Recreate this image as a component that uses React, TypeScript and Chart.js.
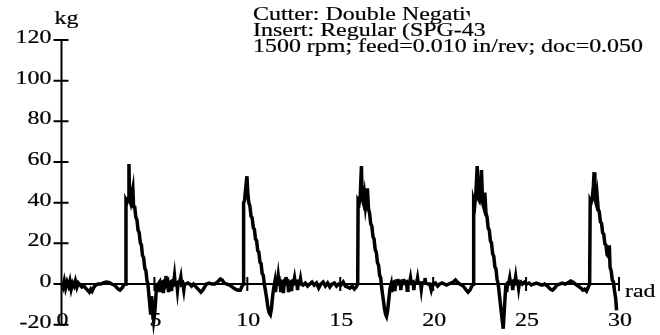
import React, { useEffect, useRef } from 'react';
import { Chart, registerables } from 'chart.js';

Chart.register(...registerables);

// [angle (rad), force (kg)], one array per tooth pass
const lead: [number, number][] = [
  [0, 0.5], [0.08, -1.5], [0.15, 1.5], [0.22, -2], [0.3, 1], [0.38, -1], [0.45, 1.5], [0.52, -2.5], [0.6, 0.5],
  [0.68, -1], [0.75, 1.5], [0.83, -1.5], [0.9, 0.5], [1.0, -0.5], [1.1, -1.5], [1.2, -1], [1.3, -2], [1.4, -3],
  [1.5, -4], [1.58, -2.5], [1.65, -3.5], [1.75, -1.5], [1.85, -0.5], [1.95, 0], [2.1, 0], [2.25, 0.5], [2.4, 1],
  [2.55, 0.8], [2.7, 0], [2.85, -0.5], [2.95, -1.5], [3.05, -2.5], [3.15, -3], [3.25, -2], [3.35, -0.5], [3.45, 0],
];

const cut1: [number, number][] = [
  [3.47, 41], [3.52, 40], [3.58, 42], [3.63, 59], [3.66, 42], [3.72, 40], [3.78, 44], [3.84, 47], [3.88, 38],
  [3.94, 37.9], [4.0, 32.8], [4.06, 31.6], [4.12, 26.5], [4.18, 25.4], [4.24, 20.3], [4.3, 19.2], [4.36, 14],
  [4.42, 12.9], [4.48, 7.8], [4.54, 6.7], [4.6, 1.6], [4.65, 0], [4.68, -3], [4.74, -9], [4.8, -15], [4.85, -6],
  [4.9, -12], [4.96, -18], [5.02, -14], [5.08, -6], [5.12, 0],
  [5.16, -4], [5.2, 0], [5.28, 1], [5.32, -4], [5.36, 0.5], [5.44, 1], [5.48, -4.5], [5.52, 0.5], [5.58, 1],
  [5.62, 4], [5.66, 0], [5.72, 1], [5.76, -4], [5.8, 0.5], [5.88, 1], [5.92, -3.5], [5.96, 0.5], [6.04, 1],
  [6.08, 4], [6.12, 0], [6.2, 0.5], [6.24, -3], [6.28, 0.5], [6.36, 1], [6.42, 3.5], [6.46, 0], [6.52, 0.5],
  [6.58, -3], [6.62, 0], [6.7, 0],
  [6.8, 0.5], [6.9, 0], [7.0, -1], [7.1, 0], [7.2, -1], [7.3, -2], [7.4, -3], [7.5, -4], [7.6, -3], [7.7, -1.5],
  [7.8, 0], [7.95, 0.5], [8.1, 0], [8.25, 0], [8.4, 1], [8.55, 2.5], [8.65, 2], [8.75, 0.5], [8.9, 0],
  [9.05, -0.5], [9.2, -1.5], [9.35, -2.5], [9.5, -3], [9.62, -3], [9.72, -1], [9.78, 0],
];

const cut2: [number, number][] = [
  [9.8, 40], [9.85, 41], [9.92, 48], [9.98, 53], [10.03, 44], [10.08, 40], [10.14, 38.2], [10.2, 33.4],
  [10.26, 32.5], [10.32, 27.7], [10.38, 26.9], [10.44, 22.1], [10.5, 21.3], [10.56, 16.4], [10.62, 15.6],
  [10.68, 10.8], [10.74, 10], [10.8, 5.1], [10.86, 4.3], [10.92, -0.5], [10.97, -3], [11.04, -7], [11.1, -11],
  [11.17, -14], [11.24, -15], [11.3, -12], [11.36, -6], [11.42, -2], [11.48, 1],
  [11.52, -4], [11.56, 0.5], [11.62, 1], [11.66, 4], [11.7, 0.5], [11.76, 1], [11.8, -4], [11.84, 0.5], [11.9, 1],
  [11.94, -4.5], [11.98, 0.5], [12.04, 1], [12.08, 3.5], [12.12, 0.5], [12.18, 1], [12.22, -4], [12.26, 0.5],
  [12.34, 1], [12.38, -3.5], [12.42, 0.5], [12.5, 1], [12.54, 3], [12.58, 0.5], [12.66, 1], [12.7, -3],
  [12.74, 0.5], [12.82, 0.5], [12.86, 2.5], [12.9, 0],
  [13.0, -0.5], [13.12, 0.5], [13.24, -1], [13.36, 0], [13.48, 1], [13.6, -0.5], [13.72, 0.5], [13.84, -2],
  [13.96, 0], [14.08, 1], [14.2, -1], [14.32, 0.5], [14.44, -1.5], [14.56, 0], [14.68, 0.5], [14.8, -1],
  [14.92, 0], [15.04, -0.5], [15.16, 1], [15.28, -1], [15.4, -1.5], [15.52, -2], [15.64, -1], [15.76, -2.5],
  [15.86, -1.5], [15.94, 0],
];

const cut3: [number, number][] = [
  [15.96, 41], [16.02, 40], [16.08, 44], [16.14, 58], [16.18, 42], [16.24, 40], [16.3, 44], [16.36, 38],
  [16.42, 42], [16.46, 47], [16.52, 37], [16.58, 34.8], [16.64, 29.6], [16.7, 28.5], [16.76, 23.3], [16.82, 22.1],
  [16.88, 16.9], [16.94, 15.7], [17.0, 10.6], [17.06, 9.4], [17.12, 4.2], [17.18, 3], [17.22, -1],
  [17.26, -4], [17.32, -8], [17.38, -12], [17.44, -15], [17.49, -16], [17.55, -13], [17.62, -7], [17.68, -2],
  [17.74, 0],
  [17.78, -4], [17.82, 0.5], [17.9, 1], [17.94, -3.5], [17.98, 0.5], [18.06, 1], [18.1, 2.5], [18.14, 0.5],
  [18.22, 1], [18.26, -3], [18.3, 0.5], [18.38, 1], [18.42, 2.5], [18.46, 0.5], [18.56, 1], [18.6, -3],
  [18.64, 0.5], [18.74, 1], [18.78, 3], [18.82, 0.5], [18.92, 1], [18.96, -3], [19.0, 0.5], [19.12, 1],
  [19.16, 3], [19.2, 0.5], [19.32, 0.5], [19.36, -2.5], [19.4, 0.5], [19.52, 1], [19.56, 3], [19.6, 0.5],
  [19.72, 0], [19.82, 0], [19.9, -3], [19.96, -1], [20.02, 0],
  [20.12, 0.5], [20.24, -1], [20.36, 0], [20.48, 0.5], [20.6, 0], [20.72, -0.5], [20.84, 0], [20.96, 0.5],
  [21.08, 1], [21.2, 2], [21.3, 1], [21.42, 0], [21.54, -0.5], [21.66, -1.5], [21.78, -3], [21.88, -4],
  [21.98, -3], [22.08, -1], [22.16, 0],
];

const cut4: [number, number][] = [
  [22.18, 41], [22.24, 39], [22.3, 45], [22.37, 58], [22.42, 42], [22.48, 41], [22.54, 46], [22.6, 56],
  [22.66, 40], [22.72, 38], [22.78, 45], [22.84, 35], [22.9, 32.8], [22.96, 27.6], [23.02, 26.5], [23.08, 21.3],
  [23.14, 20.1], [23.2, 14.9], [23.26, 13.7], [23.32, 8.5], [23.38, 7.4], [23.44, 2.2], [23.5, 0],
  [23.56, -5], [23.62, -10], [23.68, -15], [23.73, -19], [23.77, -22], [23.82, -14], [23.88, -5], [23.92, 0],
  [23.96, -4], [24.0, 0.5], [24.08, 1], [24.12, 3], [24.16, 0.5], [24.24, 1], [24.28, -3], [24.32, 0.5],
  [24.4, 1], [24.44, 3.5], [24.48, 0.5], [24.56, 1], [24.6, -2], [24.64, 0.5], [24.72, 1], [24.8, 0],
  [24.92, 1], [25.04, 0], [25.16, 0.5], [25.28, -0.5], [25.4, 0], [25.55, 0.5], [25.7, 0], [25.85, -0.5],
  [26.0, 0], [26.15, -1], [26.3, -2.5], [26.42, -3], [26.54, -2], [26.66, -0.5], [26.8, 0], [26.95, 0.5],
  [27.1, 0], [27.25, 0.5], [27.4, 1.5], [27.52, 1], [27.65, 0], [27.8, -1], [27.95, -2], [28.05, -3],
  [28.15, -2.5], [28.25, -3.5], [28.35, -1.5], [28.42, 0],
];

const cut5: [number, number][] = [
  [28.45, 41], [28.5, 40], [28.56, 42], [28.62, 48], [28.66, 55], [28.7, 42], [28.76, 40], [28.82, 44],
  [28.88, 37], [28.94, 35.3], [29.0, 30.6], [29.06, 29.9], [29.12, 25.2], [29.18, 24.5], [29.24, 19.8],
  [29.3, 19.1], [29.36, 14.4], [29.42, 13.7], [29.48, 19], [29.52, 8.2], [29.58, 6.5], [29.64, 1.8],
  [29.7, 1.1], [29.76, -3.6], [29.82, -7], [29.87, -13],
];

const xTicks = [0, 5, 10, 15, 20, 25, 30];
const yTicks = [-20, 0, 20, 40, 60, 80, 100, 120];
const xUnit = 'rad';
const yUnit = 'kg';
const titleLines = [
  'Cutter: Double Negative',
  'Insert: Regular (SPG-43',
  '1500 rpm; feed=0.010 in/rev; doc=0.050',
];

const FONT = '19px "Liberation Serif", "Times New Roman", serif';
const STRETCH = 1.26;

function drawText(
  ctx: CanvasRenderingContext2D,
  text: string,
  x: number,
  y: number,
  align: 'left' | 'right' | 'center'
) {
  ctx.save();
  ctx.font = FONT;
  ctx.fillStyle = '#000';
  ctx.strokeStyle = '#000';
  ctx.lineWidth = 0.2;
  const w = ctx.measureText(text).width * STRETCH;
  let left = x;
  if (align === 'right') left = x - w;
  else if (align === 'center') left = x - w / 2;
  ctx.translate(left, y);
  ctx.scale(STRETCH, 1);
  ctx.textAlign = 'left';
  ctx.textBaseline = 'alphabetic';
  ctx.fillText(text, 0, 0);
  ctx.strokeText(text, 0, 0);
  ctx.restore();
}

const axesPlugin = {
  id: 'customAxes',
  beforeDatasetsDraw(chart: any) {
    const ctx: CanvasRenderingContext2D = chart.ctx;
    const xs = chart.scales.x;
    const ys = chart.scales.y;
    const x0 = xs.getPixelForValue(0);
    const y0 = ys.getPixelForValue(0);
    ctx.save();
    ctx.strokeStyle = '#000';
    ctx.lineWidth = 2;
    ctx.beginPath();
    ctx.moveTo(x0, ys.getPixelForValue(yTicks[yTicks.length - 1]));
    ctx.lineTo(x0, ys.getPixelForValue(yTicks[0]));
    ctx.moveTo(x0, y0);
    ctx.lineTo(xs.getPixelForValue(xTicks[xTicks.length - 1]), y0);
    yTicks.forEach((v) => {
      const py = ys.getPixelForValue(v);
      ctx.moveTo(x0 - 8, py);
      ctx.lineTo(x0 + 7, py);
    });
    xTicks.forEach((v) => {
      if (v === 0) return;
      const px = xs.getPixelForValue(v);
      ctx.moveTo(px, y0 - 7);
      ctx.lineTo(px, y0 + 7);
    });
    ctx.stroke();
    ctx.restore();
  },
  afterDraw(chart: any) {
    const ctx: CanvasRenderingContext2D = chart.ctx;
    const xs = chart.scales.x;
    const ys = chart.scales.y;
    const x0 = xs.getPixelForValue(0);
    const y0 = ys.getPixelForValue(0);
    yTicks.forEach((v) => {
      drawText(ctx, String(v), x0 - 10, ys.getPixelForValue(v) + 3, 'right');
    });
    xTicks.forEach((v) => {
      drawText(ctx, String(v), xs.getPixelForValue(v) + 1, y0 + 42, 'center');
    });
    drawText(ctx, xUnit, xs.getPixelForValue(30) + 6, y0 + 13, 'left');
    drawText(ctx, yUnit, x0 - 7, ys.getPixelForValue(120) - 16, 'left');

    const tx = 253;
    const baselines = [20, 36, 52];
    // first line is cut off mid-letter in the source
    ctx.save();
    ctx.font = FONT;
    const cutW = ctx.measureText('Cutter: Double Negati').width * STRETCH + 4;
    ctx.beginPath();
    ctx.rect(0, 0, tx + cutW, 26);
    ctx.clip();
    drawText(ctx, titleLines[0], tx, baselines[0], 'left');
    ctx.restore();
    drawText(ctx, titleLines[1], tx, baselines[1], 'left');
    drawText(ctx, titleLines[2], tx, baselines[2], 'left');
  },
};

export default function App() {
  const ref = useRef<HTMLCanvasElement | null>(null);
  useEffect(() => {
    if (!ref.current) return;
    const trace = [...lead, ...cut1, ...cut2, ...cut3, ...cut4, ...cut5];
    const points = trace.map(([x, y]) => ({ x, y }));
    const chart = new Chart(ref.current, {
      type: 'line',
      data: {
        datasets: [
          {
            data: points,
            borderColor: '#000',
            borderWidth: 3.5,
            pointRadius: 0,
            tension: 0,
            fill: false,
            clip: false as any,
          },
        ],
      },
      options: {
        responsive: false,
        animation: false,
        layout: { padding: { left: 61.5, right: 41, top: 40, bottom: 10.3 } },
        plugins: { legend: { display: false }, tooltip: { enabled: false }, title: { display: false } },
        scales: {
          x: { type: 'linear', min: 0, max: 30, display: false },
          y: { type: 'linear', min: -20, max: 120, display: false },
        },
      },
      plugins: [axesPlugin],
    });
    return () => chart.destroy();
  }, []);
  return (
    <div style={{ position: 'fixed', left: 0, top: 0, width: 660, height: 335, background: '#fff' }}>
      <canvas ref={ref} width={660} height={335} style={{ display: 'block' }} />
    </div>
  );
}
